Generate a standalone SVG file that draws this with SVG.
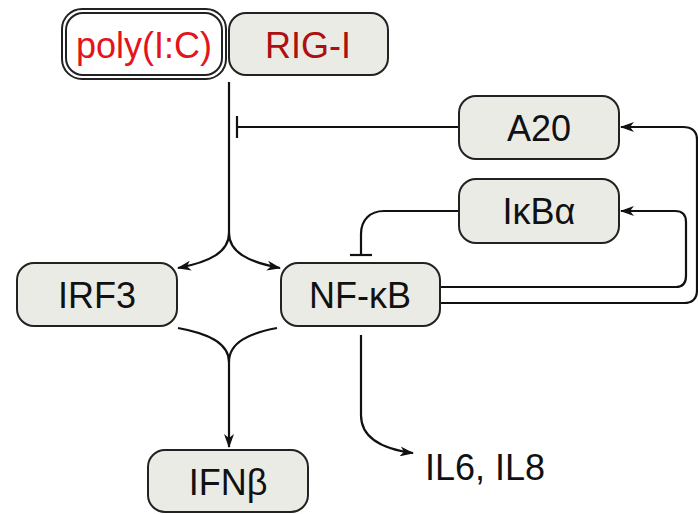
<svg xmlns="http://www.w3.org/2000/svg" width="698" height="514" viewBox="0 0 698 514">
  <defs>
    <style>
      .box { fill: #ebebe5; stroke: #222; stroke-width: 2; }
      .lbl { font-family: "Liberation Sans", Arial, sans-serif; font-size: 36px; fill: #111; text-anchor: middle; }
      .edge { fill: none; stroke: #111; stroke-width: 2.2; }
    </style>
    <marker id="arrow" viewBox="0 0 14 10" refX="13" refY="5" markerWidth="14" markerHeight="10" markerUnits="userSpaceOnUse" orient="auto">
      <path d="M0,0 L14,5 L0,10 L4,5 z" fill="#111"/>
    </marker>
  </defs>
  <rect width="698" height="514" fill="#fff"/>

  <g id="connectors">
    <!-- RIG-I signal splitting to IRF3 and NF-kB -->
    <path class="edge" d="M229,82 L229,233"/>
    <path class="edge" d="M229,233 C229,252 210,262 178,268" marker-end="url(#arrow)"/>
    <path class="edge" d="M229,233 C229,252 248,262 280,268" marker-end="url(#arrow)"/>
    <!-- A20 inhibition -->
    <path class="edge" d="M459,127 L237,127"/>
    <path class="edge" d="M237,116 L237,138"/>
    <!-- IkBa inhibition of NF-kB -->
    <path class="edge" d="M459,211 L384,211 C370,211 361,220 361,234 L361,255"/>
    <path class="edge" d="M350,255 L372,255"/>
    <!-- NF-kB induces IkBa -->
    <path class="edge" d="M441,287 L676,287 C683,287 686,283 686,276 L686,222 C686,215 682,211 675,211 L621,211" marker-end="url(#arrow)"/>
    <!-- NF-kB induces A20 -->
    <path class="edge" d="M441,303 L684,303 C693,303 697,298 697,290 L697,140 C697,131 692,127 683,127 L621,127" marker-end="url(#arrow)"/>
    <!-- IRF3 + NF-kB converge on IFNb -->
    <path class="edge" d="M178,328 C206,333 229,342 229,362"/>
    <path class="edge" d="M277,328 C250,333 229,342 229,362"/>
    <path class="edge" d="M229,362 L229,447" marker-end="url(#arrow)"/>
    <!-- NF-kB to IL6, IL8 -->
    <path class="edge" d="M361,335 L361,415 C361,438 382,449 413,453" marker-end="url(#arrow)"/>
  </g>

  <g id="polyIC">
    <rect x="62" y="9" width="164" height="70" rx="20" fill="#fff" stroke="#222" stroke-width="2"/>
    <rect x="66" y="13" width="156" height="62" rx="17" fill="#fff" stroke="#222" stroke-width="2"/>
    <text class="lbl" x="144" y="58" style="fill:#e3141b">poly(I:C)</text>
  </g>
  <g id="RIGI">
    <rect class="box" x="229" y="13" width="159" height="62" rx="17"/>
    <text class="lbl" x="308" y="58" style="fill:#ad1010">RIG-I</text>
  </g>
  <g id="A20">
    <rect class="box" x="459" y="96" width="160" height="63" rx="17"/>
    <text class="lbl" x="539" y="141">A20</text>
  </g>
  <g id="IkBa">
    <rect class="box" x="459" y="179" width="160" height="64" rx="17"/>
    <text class="lbl" x="539" y="224">IκBα</text>
  </g>
  <g id="IRF3">
    <rect class="box" x="17" y="263" width="160" height="63" rx="17"/>
    <text class="lbl" x="97" y="308">IRF3</text>
  </g>
  <g id="NFkB">
    <rect class="box" x="281" y="263" width="159" height="63" rx="17"/>
    <text class="lbl" x="360" y="308">NF-κB</text>
  </g>
  <g id="IFNb">
    <rect class="box" x="148" y="450" width="160" height="62" rx="17"/>
    <text class="lbl" x="228" y="495">IFNβ</text>
  </g>
  <g id="IL6IL8">
    <text class="lbl" x="425" y="480" style="text-anchor:start">IL6, IL8</text>
  </g>
</svg>
